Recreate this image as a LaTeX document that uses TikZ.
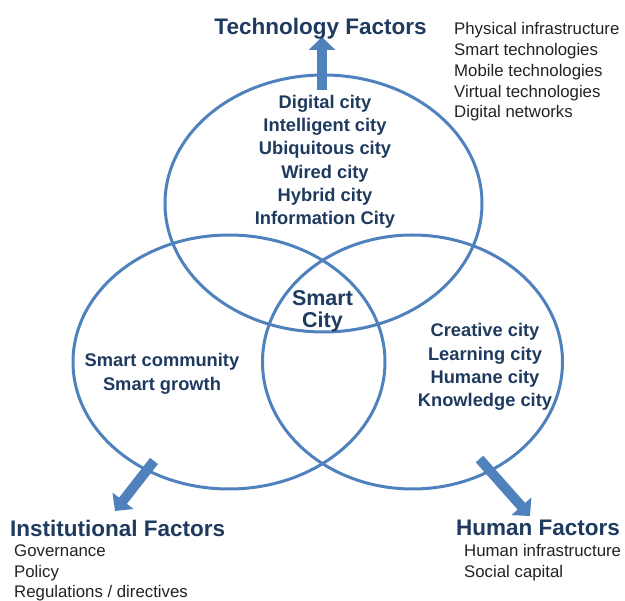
\documentclass[tikz,border=0pt]{standalone}
\usepackage{fontspec}
\setmainfont{Liberation Sans}
\usetikzlibrary{arrows.meta}
\definecolor{ringblue}{HTML}{4F81BD}
\definecolor{navy}{HTML}{1F3A5F}
\definecolor{ink}{HTML}{222222}
\begin{document}
\begin{tikzpicture}[x=1pt,y=-1pt,
  ring/.style={draw=ringblue,line width=3pt},
  fatarrow/.style={draw=ringblue,line width=10pt,
    -{Triangle[width=26pt,length=13pt,fill=ringblue]}},
  heading/.style={font=\fontsize{22.5}{26}\selectfont\bfseries,text=navy,inner sep=0pt},
  citylist/.style={font=\fontsize{18.3}{23.2}\selectfont\bfseries,text=navy,
    align=center,inner sep=0pt,anchor=base},
  factorlist/.style={font=\fontsize{16.8}{20.7}\selectfont,text=ink,
    align=left,inner sep=0pt,anchor=base west},
  core/.style={font=\fontsize{21.5}{22}\selectfont\bfseries,text=navy,
    align=center,inner sep=0pt,anchor=base}]
\useasboundingbox (0,0) rectangle (625,601);

% the three overlapping rings
\draw[ring] (323.5,203.5) ellipse [x radius=158.5, y radius=128.5];
\draw[ring] (229,362) ellipse [x radius=156, y radius=127];
\draw[ring] (412.5,362) ellipse [x radius=150, y radius=127];

% arrow end points
\coordinate (techfoot) at (322,90);
\coordinate (techtip) at (322,37);
\coordinate (instfoot) at (154,461);
\coordinate (insttip) at (115,511);
\coordinate (humfoot) at (479.5,459);
\coordinate (humtip) at (530,516);

\draw[fatarrow] (techfoot) -- (techtip);
\draw[fatarrow] (instfoot) -- (insttip);
\draw[fatarrow] (humfoot) -- (humtip);

% factor headings
\node[heading,anchor=base] (tech) at (320.5,35) {Technology Factors};
\node[heading,anchor=base west] (inst) at (10,537) {Institutional Factors};
\node[heading,anchor=base west] (hum) at (456,536) {Human Factors};

% factor details (multi-line nodes are placed by their last baseline)
\node[factorlist] (techlist) at (454,117.8) {Physical infrastructure\\Smart technologies\\Mobile technologies\\Virtual technologies\\Digital networks};
\node[factorlist] (instlist) at (14,598) {Governance\\Policy\\Regulations / directives};
\node[factorlist] (humlist) at (464,577.7) {Human infrastructure\\Social capital};

% city concepts inside the rings
\node[citylist] (techcities) at (325,224.5) {Digital city\\Intelligent city\\Ubiquitous city\\Wired city\\Hybrid city\\Information City};
\node[citylist] (instcities) at (162,390.2) {Smart community\\Smart growth};
\node[citylist] (humcities) at (485,406.6) {Creative city\\Learning city\\Humane city\\Knowledge city};

% centre of the diagram
\node[core] (smart) at (322.5,328) {Smart\\City};
\end{tikzpicture}
\end{document}
